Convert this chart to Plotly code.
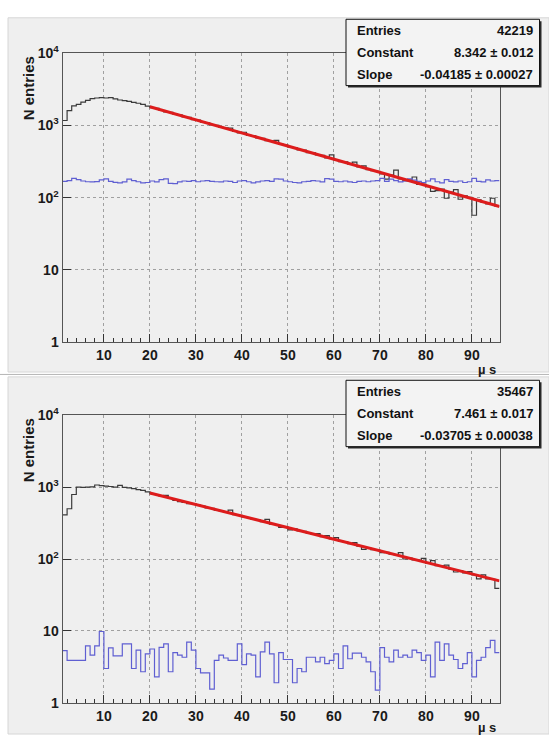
import math
import plotly.graph_objects as go

# ---------------- data ----------------
bin_edges = list(range(1, 97))  # 95 bins of 1 µs, from 1 to 96 µs

top_signal = [
    1170, 1600, 1870, 1960, 2100, 2230, 2350, 2400, 2420, 2400,
    2430, 2330, 2250, 2200, 2150, 2080, 2030, 1960, 1850, 1760,
    1720, 1610, 1545, 1520, 1430, 1400, 1310, 1290, 1205, 1185,
    1110, 1090, 1020, 1000, 940, 925, 915, 830, 790, 805,
    730, 720, 670, 660, 615, 610, 620, 545, 535, 500,
    495, 460, 455, 420, 418, 390, 385, 355, 390, 330,
    315, 312, 290, 310, 266, 275, 245, 236, 232, 214,
    180, 205, 240, 182, 172, 175, 193, 152, 154, 142,
    122, 125, 131, 98, 119, 129, 95, 106, 101, 57,
    93, 86, 82, 98, 76,
]
top_background = [
    168, 172, 185, 178, 170, 166, 165, 167, 176, 182,
    168, 163, 160, 165, 180, 172, 166, 160, 162, 170,
    165, 178, 182, 158, 156, 165, 170, 168, 172, 166,
    170, 172, 168, 166, 165, 170, 168, 162, 170, 172,
    166, 160, 165, 170, 172, 168, 182, 180, 170, 166,
    162, 160, 166, 168, 172, 170, 165, 183, 180, 168,
    166, 170, 165, 162, 168, 170, 166, 170, 172, 185,
    168, 180, 172, 165, 170, 182, 175, 168, 162, 170,
    182, 166, 160, 178, 168, 165, 170, 162, 166, 185,
    168, 165, 176, 170, 172,
]
bottom_signal = [
    410, 500, 790, 1000, 990, 1000, 1010, 1070, 1050, 1030,
    1020, 1000, 1060, 990, 975, 950, 925, 900, 860, 810,
    790, 750, 770, 695, 655, 630, 612, 590, 588, 560,
    545, 515, 505, 478, 470, 447, 478, 415, 405, 385,
    378, 356, 350, 330, 355, 306, 302, 276, 280, 255,
    262, 246, 243, 228, 224, 225, 204, 211, 190, 198,
    176, 173, 163, 169, 151, 136, 143, 135, 133, 123,
    124, 117, 115, 123, 100, 103, 97, 96, 102, 87,
    95, 81, 80, 82, 72, 66, 69, 64, 67, 60,
    53, 60, 53, 52, 39,
]
bottom_background = [
    5.3, 3.9, 3.9, 3.9, 3.9, 6.2, 4.6, 6.2, 9.8, 3.0,
    5.8, 4.5, 4.5, 6.6, 6.6, 3.0, 5.4, 2.7, 4.8, 5.6,
    2.3, 5.9, 6.6, 2.7, 5.0, 4.6, 4.3, 7.0, 5.4, 3.0,
    2.6, 2.6, 1.55, 3.9, 4.6, 4.2, 3.9, 3.9, 6.6, 3.4,
    4.8, 4.6, 2.3, 5.1, 7.0, 4.8, 1.9, 5.0, 4.0, 4.0,
    1.9, 3.0, 2.7, 4.3, 4.3, 3.7, 4.3, 3.5, 3.9, 4.8,
    3.0, 6.2, 4.1, 4.9, 4.9, 4.3, 3.7, 2.7, 1.5, 5.85,
    4.3, 3.7, 5.4, 4.3, 4.6, 4.3, 5.4, 5.0, 3.9, 4.6,
    2.3, 7.0, 3.9, 6.6, 4.6, 4.0, 3.0, 3.5, 5.0, 2.3,
    3.9, 4.3, 5.85, 7.4, 5.0,
]

fit_range = [20, 96]
top_fit = {"entries": "42219", "constant": 8.342, "constant_err": "0.012",
           "slope": -0.04185, "slope_err": "0.00027"}
bottom_fit = {"entries": "35467", "constant": 7.461, "constant_err": "0.017",
              "slope": -0.03705, "slope_err": "0.00038"}

y_tickvals = [1, 10, 100, 1000, 10000]
y_ticktext = ["1", "10", "10<sup>2</sup>", "10<sup>3</sup>", "10<sup>4</sup>"]
y_minor_digits = [2, 3, 4, 5, 6, 7, 8, 9]
y_minor_tickvals = [d * dec for dec in y_tickvals[:-1] for d in y_minor_digits]

# ---------------- layout helpers ----------------
W, H = 549, 742
def px(x):
    return x / W
def py(y):
    return 1 - y / H

FONT = "Liberation Sans, Arial, Helvetica, sans-serif"
BG = "#efefef"
BLACK_H = "#3a3a3a"
BLUE_H = "#5f5fd2"
RED = "#dd1c1c"

fig = go.Figure()

def step(vals):
    return vals + [vals[-1]]

panels = [
    dict(sig=top_signal, bkg=top_background, fit=top_fit, xa="x", ya="y",
         ytop=44.3, ybot=340.3, ptop=8, pbot=371, box_top=9.5),
    dict(sig=bottom_signal, bkg=bottom_background, fit=bottom_fit, xa="x2", ya="y2",
         ytop=415.3, ybot=710, ptop=376, pbot=742, box_top=379.5),
]

shapes = []
annotations = []
axis_common_x = dict(
    range=[1, 96], domain=[px(62.5), px(499.5)],
    showgrid=True, gridcolor="#a0a0a0", griddash="dot", gridwidth=1,
    ticks="inside", ticklen=8, tickwidth=1, tickcolor="#333",
    tickmode="linear", tick0=0, dtick=10,
    minor=dict(ticks="inside", ticklen=4, tickwidth=1, tickcolor="#333",
               tickmode="linear", tick0=0, dtick=2, showgrid=False),
    showline=True, linecolor="#555", linewidth=1, mirror=True, zeroline=False,
    tickfont=dict(family=FONT, size=14, color="#1a1a1a", weight="bold"),
)
axis_common_y = dict(
    type="log", range=[0, 4],
    showgrid=True, gridcolor="#a0a0a0", griddash="dot", gridwidth=1,
    ticks="inside", ticklen=8, tickwidth=1, tickcolor="#333",
    tickmode="array", tickvals=y_tickvals, ticktext=y_ticktext,
    showline=True, linecolor="#555", linewidth=1, mirror=True, zeroline=False,
    tickfont=dict(family=FONT, size=14, color="#1a1a1a", weight="bold"),
)

layout_axes = {}
for i, p in enumerate(panels):
    xname = "xaxis" if i == 0 else "xaxis2"
    yname = "yaxis" if i == 0 else "yaxis2"
    dom = [py(p["ybot"]), py(p["ytop"])]
    layout_axes[xname] = dict(axis_common_x, anchor=p["ya"])
    layout_axes[yname] = dict(axis_common_y, anchor=p["xa"], domain=dom)
    # overlay axis carrying the minor log ticks (2..9 of each decade)
    layout_axes["yaxis%d" % (i + 3)] = dict(
        type="log", range=[0, 4], overlaying=p["ya"], anchor=p["xa"], side="left",
        domain=dom, tickmode="array", tickvals=y_minor_tickvals,
        ticks="inside", ticklen=4, tickwidth=1, tickcolor="#333",
        showticklabels=False, showgrid=False, showline=False, zeroline=False)

    # histograms
    fig.add_trace(go.Scatter(x=bin_edges, y=step(p["sig"]), mode="lines",
                             line=dict(shape="hv", color=BLACK_H, width=1.2),
                             xaxis=p["xa"], yaxis=p["ya"], showlegend=False))
    fig.add_trace(go.Scatter(x=bin_edges, y=step(p["bkg"]), mode="lines",
                             line=dict(shape="hv", color=BLUE_H, width=1.2),
                             xaxis=p["xa"], yaxis=p["ya"], showlegend=False))
    f = p["fit"]
    fit_y = [math.exp(f["constant"] + f["slope"] * x) for x in fit_range]
    fig.add_trace(go.Scatter(x=fit_range, y=fit_y, mode="lines",
                             line=dict(color=RED, width=3),
                             xaxis=p["xa"], yaxis=p["ya"], showlegend=False))

    # panel background
    shapes.append(dict(type="rect", xref="paper", yref="paper",
                       x0=px(8), x1=px(549), y0=py(p["pbot"]), y1=py(p["ptop"]),
                       fillcolor=BG, line=dict(color="#d6d6d6", width=1), layer="below"))

    # stats box
    bt = p["box_top"]
    bh = 68
    shapes.append(dict(type="rect", xref="paper", yref="paper",
                       x0=px(348), x1=px(541.5), y0=py(bt + bh + 2), y1=py(bt + 2),
                       fillcolor="#2a2a2a", line=dict(width=0)))
    shapes.append(dict(type="rect", xref="paper", yref="paper",
                       x0=px(346), x1=px(539.5), y0=py(bt + bh), y1=py(bt),
                       fillcolor="#f3f3f3", line=dict(color="#111", width=1)))
    rows = [("Entries", f["entries"]),
            ("Constant", f"{f['constant']:.3f} ± {f['constant_err']}"),
            ("Slope", f"{f['slope']:.5f} ± {f['slope_err']}")]
    for k, (lab, val) in enumerate(rows):
        yy = bt + 11.5 + k * 22.5
        annotations.append(dict(x=px(355), y=py(yy), xref="paper", yref="paper",
                                text=lab, showarrow=False, xanchor="left", yanchor="middle",
                                font=dict(family=FONT, size=13, color="#111", weight="bold")))
        annotations.append(dict(x=px(534.5), y=py(yy), xref="paper", yref="paper",
                                text=val, showarrow=False, xanchor="right", yanchor="middle",
                                font=dict(family=FONT, size=13, color="#111", weight="bold")))

    # axis titles
    annotations.append(dict(x=px(28), y=py(p["ytop"] + 36), xref="paper", yref="paper",
                            text="N entries", textangle=-90, showarrow=False,
                            xanchor="center", yanchor="middle",
                            font=dict(family=FONT, size=15, color="#1a1a1a", weight="bold")))
    ylab = 368 if i == 0 else 735
    annotations.append(dict(x=px(498), y=py(ylab), xref="paper", yref="paper",
                            text="µ s", showarrow=False, xanchor="right", yanchor="middle",
                            font=dict(family=FONT, size=13, color="#1a1a1a", weight="bold")))

shapes.append(dict(type="line", xref="paper", yref="paper", x0=0, x1=1,
                   y0=py(373.5), y1=py(373.5), line=dict(color="#b5b5b5", width=1)))

fig.update_layout(
    width=W, height=H,
    margin=dict(l=0, r=0, t=0, b=0),
    paper_bgcolor="white", plot_bgcolor=BG,
    shapes=shapes, annotations=annotations,
    showlegend=False,
    **layout_axes,
)

# remove the browser's default 8 px body margin so the figure fills the window exactly
fig.write_html("out.html",
               config={"displayModeBar": False},
               post_script="document.body.style.margin='0px';"
                           "document.documentElement.style.overflow='hidden';")
